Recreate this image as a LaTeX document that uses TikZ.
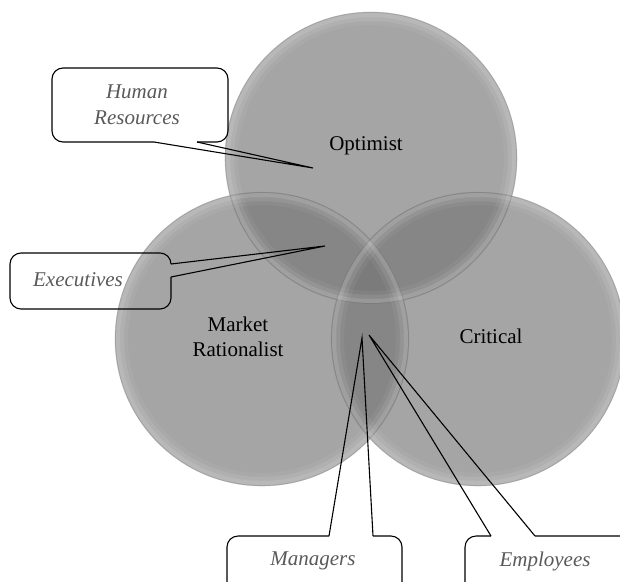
\documentclass[tikz,border=0pt]{standalone}
\usepackage{fontspec}
\setmainfont{Liberation Serif}
\usetikzlibrary{positioning}

\begin{document}
\begin{tikzpicture}[x=1pt, y=-1pt,
	set/.style={fill=black!54, fill opacity=0.65},
	rim/.style={draw=white, draw opacity=#1, line width=4pt},
	edge/.style={draw=black!45, draw opacity=0.35, line width=0.6pt},
	lbl/.style={font=\fontsize{21}{25}\selectfont, align=center},
	tag/.style={font=\fontsize{21}{26}\selectfont\itshape, text=black!65, align=center},
	box/.style={draw=black, line width=1.1pt, rounded corners=11pt},
	ptr/.style={draw=black, line width=1.1pt}]
	\useasboundingbox (0,0) rectangle (620,581);
	\clip (0,0) rectangle (620,581);

	% the three sets
	\path[set] (371,158) circle (146pt);
	\path[set] (262,339) circle (147pt);
	\path[set] (478,339) circle (147pt);
	\foreach \c/\r in {{(371,158)}/146, {(262,339)}/147, {(478,339)}/147} {
		\path[rim=0.22] \c circle ({\r pt - 3pt});
		\path[rim=0.12] \c circle ({\r pt - 7pt});
		\path[rim=0.05] \c circle ({\r pt - 11pt});
		\path[edge] \c circle (\r pt);
	}

	\node[lbl] (opt) at (366,146) {Optimist};
	\node[lbl] (mkt) at (238,337) {Market\\Rationalist};
	\node[lbl] (crit) at (491,336) {Critical};

	% callouts
	\node[tag] (hr) at (137,105) {Human\\Resources};
	\coordinate (hrtip) at (313,168);
	\draw[box] (197,142) -- (228,142) -- (228,68) -- (52,68) -- (52,142) -- (154,142);
	\draw[ptr] (154,142) -- (hrtip) -- (197,142);

	\node[tag] (exe) at (78,280) {Executives};
	\coordinate (exetip) at (325,246);
	\draw[box] (171,277) -- (171,309) -- (10,309) -- (10,253) -- (171,253) -- (171,264);
	\draw[ptr] (171,264) -- (exetip) -- (171,277);

	\node[tag] (mgr) at (313,561) {Managers};
	\coordinate (mgrtip) at (362,338);
	\draw[box] (227,600) -- (227,536) -- (329,536);
	\draw[box] (373,536) -- (402,536) -- (402,600);
	\draw[ptr] (329,536) -- (mgrtip) -- (373,536);

	\node[tag] (emp) at (545,561) {Employees};
	\coordinate (emptip) at (369,335);
	\draw[box] (465,600) -- (465,536) -- (491,536);
	\draw[box] (535,536) -- (640,536) -- (640,600);
	\draw[ptr] (491,536) -- (emptip) -- (535,536);
\end{tikzpicture}
\end{document}
